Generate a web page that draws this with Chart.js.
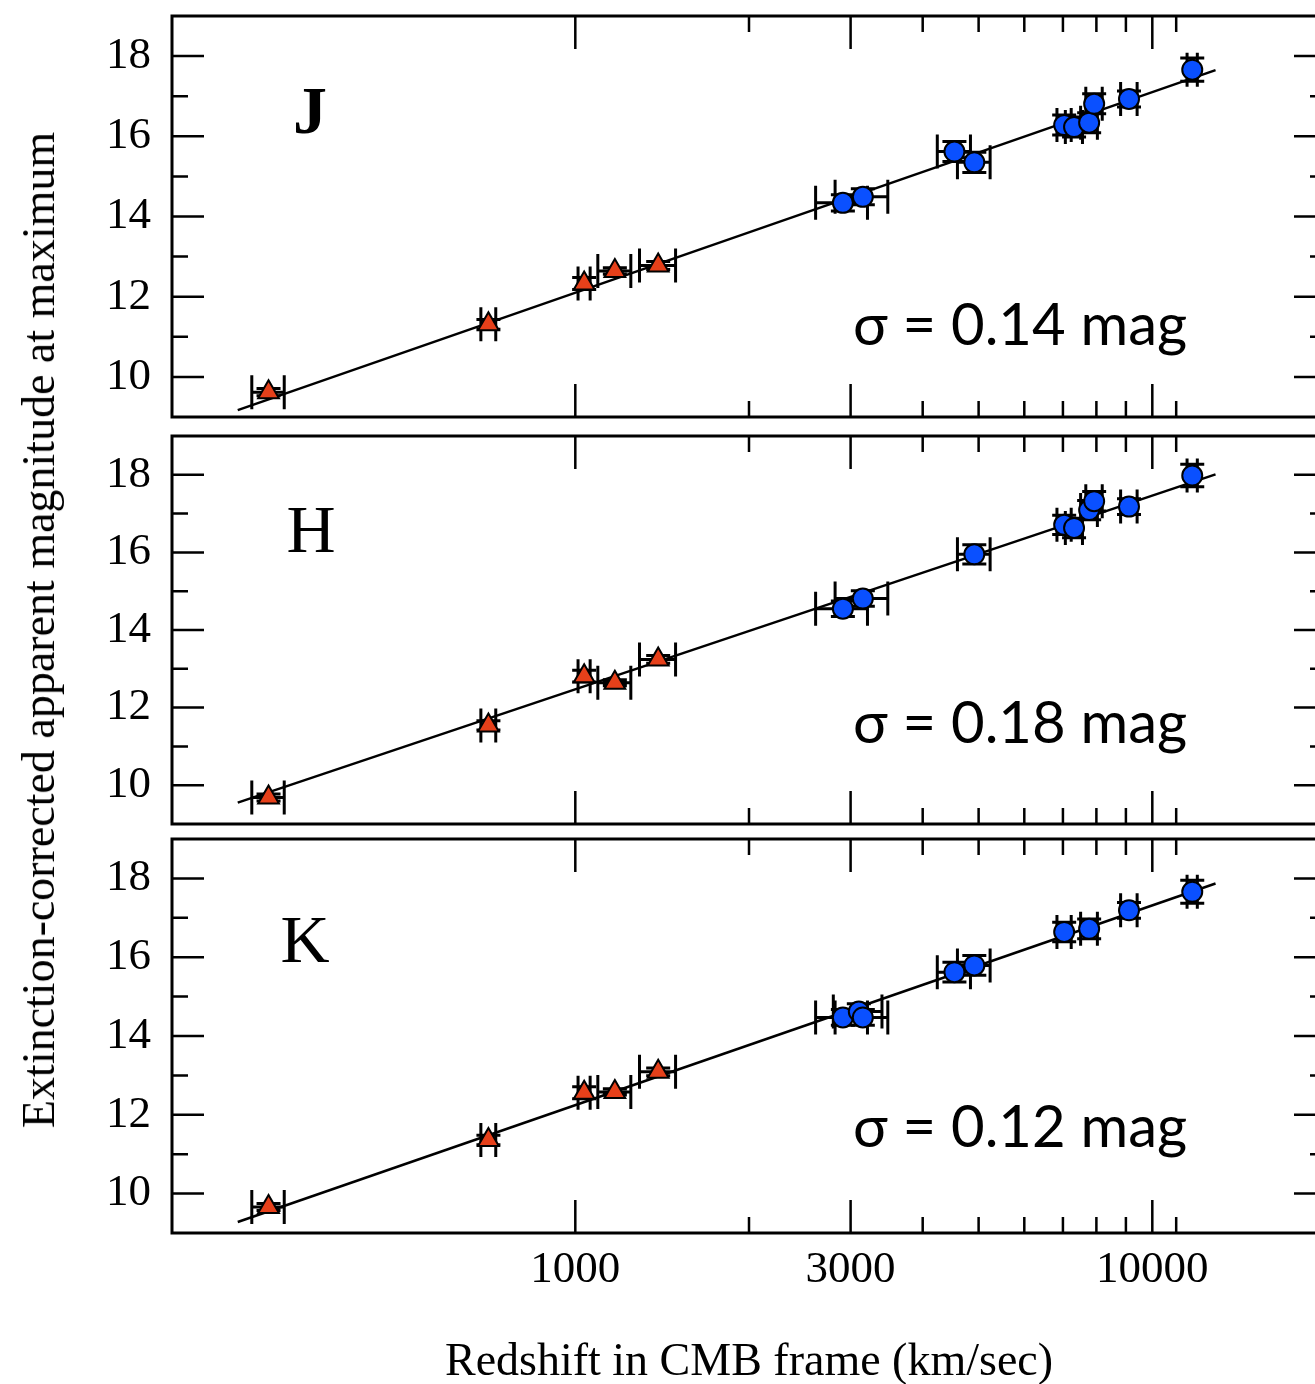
<!DOCTYPE html>
<html>
<head>
<meta charset="utf-8">
<script src="https://cdn.jsdelivr.net/npm/chart.js@4.4.1/dist/chart.umd.min.js"></script>
<style>
  html, body { margin: 0; padding: 0; background: #fff; overflow: hidden; }
  body { position: relative; width: 1315px; height: 1384px; }
  canvas { position: absolute; left: 0; }
  #ytitle {
    position: absolute; left: 39px; top: 630px;
    font-family: "Liberation Serif", "Times New Roman", serif; font-size: 46px; line-height: 1;
    white-space: nowrap; color: #000;
    transform: translate(-50%, -50%) rotate(-90deg);
  }
</style>
</head>
<body>
<canvas id="pJ" width="1340" height="429" style="top:2px"></canvas>
<canvas id="pH" width="1340" height="416" style="top:422px"></canvas>
<canvas id="pK" width="1340" height="559" style="top:825px"></canvas>
<div id="ytitle">Extinction-corrected apparent magnitude at maximum</div>
<script>
// axis ticks
const xLabelTicks = [1000, 3000, 10000];
const xMajor = [1000, 3000, 10000];
const xMinor = [2000, 4000, 5000, 6000, 7000, 8000, 9000, 11000];
const yLabelTicks = [10, 12, 14, 16, 18];
const yMinor = [11, 13, 15, 17];
const xTitle = 'Redshift in CMB frame (km/sec)';

// nearby SNe (red triangles), same velocities in all bands
const triV = [294, 707, 1036, 1171, 1392];
const triVerr = [19, 21, 25, 77, 100];

// fit lines (end points)
const lineV = [260, 12870];

// J band
const jTriM = [9.62, 11.31, 12.33, 12.64, 12.78];
const jTriMerr = [0.09, 0.12, 0.15, 0.08, 0.1];
const jBlueV = [2909, 3150, 4540, 4915, 7035, 7318, 7772, 7929, 9112, 11728];
const jBlueM = [14.34, 14.49, 15.62, 15.35, 16.28, 16.23, 16.34, 16.81, 16.93, 17.66];
const jBlueVerr = [300, 330, 300, 320, 200, 250, 260, 260, 300, 240];
const jBlueMerr = [0.2, 0.2, 0.25, 0.25, 0.25, 0.25, 0.25, 0.25, 0.2, 0.29];
const jLineM = [9.17, 17.65];

// H band
const hTriM = [9.68, 11.54, 12.81, 12.64, 13.24];
const hTriMerr = [0.09, 0.12, 0.15, 0.08, 0.1];
const hBlueV = [2909, 3150, 4915, 7035, 7318, 7772, 7929, 9112, 11728];
const hBlueM = [14.55, 14.81, 15.95, 16.71, 16.63, 17.09, 17.32, 17.18, 17.98];
const hBlueVerr = [300, 330, 320, 200, 250, 260, 260, 300, 240];
const hBlueMerr = [0.2, 0.2, 0.25, 0.25, 0.25, 0.25, 0.25, 0.2, 0.29];
const hLineM = [9.55, 18.01];

// K band
const kTriM = [9.66, 11.36, 12.56, 12.58, 13.09];
const kTriMerr = [0.09, 0.12, 0.15, 0.08, 0.1];
const kBlueV = [2909, 3100, 3150, 4540, 4915, 7035, 7772, 9112, 11728];
const kBlueM = [14.47, 14.62, 14.47, 15.62, 15.79, 16.64, 16.72, 17.19, 17.66];
const kBlueVerr = [300, 300, 330, 300, 320, 200, 260, 300, 240];
const kBlueMerr = [0.2, 0.2, 0.2, 0.25, 0.25, 0.25, 0.25, 0.2, 0.29];
const kLineM = [9.28, 17.87];

const RED = '#e6401a';
const BLUE = '#0a50ff';
const SERIF = '"Liberation Serif", "Times New Roman", serif';

const pts = (xs, ys) => xs.map((v, i) => ({x: v, y: ys[i]}));

// error bars with caps, drawn under the symbols
const errorBars = {
  id: 'errorBars',
  beforeDatasetsDraw(chart) {
    const {ctx, scales: {x, y}} = chart;
    const capX = 17, capY = 12;
    ctx.save();
    ctx.strokeStyle = '#000';
    ctx.lineWidth = 3;
    chart.data.datasets.forEach(ds => {
      if (!ds.xErr) return;
      ds.data.forEach((p, i) => {
        const px = x.getPixelForValue(p.x), py = y.getPixelForValue(p.y);
        const xl = x.getPixelForValue(p.x - ds.xErr[i]);
        const xr = x.getPixelForValue(p.x + ds.xErr[i]);
        const yt = y.getPixelForValue(p.y + ds.yErr[i]);
        const yb = y.getPixelForValue(p.y - ds.yErr[i]);
        ctx.beginPath();
        ctx.moveTo(xl, py); ctx.lineTo(xr, py);
        ctx.moveTo(xl, py - capX); ctx.lineTo(xl, py + capX);
        ctx.moveTo(xr, py - capX); ctx.lineTo(xr, py + capX);
        ctx.moveTo(px, yt); ctx.lineTo(px, yb);
        ctx.moveTo(px - capY, yt); ctx.lineTo(px + capY, yt);
        ctx.moveTo(px - capY, yb); ctx.lineTo(px + capY, yb);
        ctx.stroke();
      });
    });
    ctx.restore();
  }
};

// box frame + inward ticks on all four sides
const frameTicks = {
  id: 'frameTicks',
  afterDraw(chart) {
    const {ctx, chartArea: a, scales: {x, y}} = chart;
    ctx.save();
    ctx.strokeStyle = '#000';
    ctx.lineWidth = 2.5;
    ctx.beginPath();
    const vt = (v, len) => {
      const p = x.getPixelForValue(v);
      ctx.moveTo(p, a.top); ctx.lineTo(p, a.top + len);
      ctx.moveTo(p, a.bottom); ctx.lineTo(p, a.bottom - len);
    };
    const ht = (v, len) => {
      const p = y.getPixelForValue(v);
      ctx.moveTo(a.left, p); ctx.lineTo(a.left + len, p);
      ctx.moveTo(a.right, p); ctx.lineTo(a.right - len, p);
    };
    xMajor.forEach(v => vt(v, 33));
    xMinor.forEach(v => vt(v, 16));
    yLabelTicks.forEach(v => ht(v, 32));
    yMinor.forEach(v => ht(v, 16));
    ctx.stroke();
    ctx.lineWidth = 3;
    ctx.strokeRect(a.left, a.top, a.right - a.left, a.bottom - a.top);
    ctx.restore();
  }
};

// band letter and scatter annotation
const panelText = {
  id: 'panelText',
  afterDraw(chart, args, o) {
    const {ctx, chartArea: a} = chart;
    ctx.save();
    ctx.fillStyle = '#000';
    ctx.textBaseline = 'alphabetic';
    ctx.textAlign = 'center';
    ctx.font = (o.bold ? 'bold ' : '') + '68px ' + SERIF;
    ctx.fillText(o.letter, o.lx, a.top + o.ly);
    ctx.textAlign = 'left';
    ctx.font = '58px Lato, "Open Sans", sans-serif';
    ctx.fillText(o.sigma, 853, a.top + o.sy);
    ctx.restore();
  }
};

function makePanel(id, c) {
  return new Chart(document.getElementById(id), {
    type: 'scatter',
    data: {
      datasets: [
        {data: pts(triV, c.triM), xErr: triVerr, yErr: c.triMerr, pointStyle: 'triangle',
         pointRadius: 12, backgroundColor: RED, borderColor: '#000', borderWidth: 2},
        {data: pts(c.blueV, c.blueM), xErr: c.blueVerr, yErr: c.blueMerr, pointStyle: 'circle',
         pointRadius: 10, backgroundColor: BLUE, borderColor: '#000', borderWidth: 2},
        {data: pts(lineV, c.lineM), showLine: true, pointRadius: 0, borderColor: '#000',
         borderWidth: 2.5, fill: false}
      ]
    },
    options: {
      responsive: false,
      animation: false,
      devicePixelRatio: 1,
      layout: {padding: c.padding},
      plugins: {
        legend: {display: false},
        tooltip: {enabled: false},
        panelText: c.text
      },
      scales: {
        x: {
          type: 'logarithmic', min: 200, max: 20000,
          display: c.showX,
          grid: {display: false},
          border: {display: false},
          ticks: {
            font: {family: SERIF, size: 45}, color: '#000', padding: 2,
            maxRotation: 0, autoSkip: false,
            callback: v => String(v)
          },
          afterBuildTicks: s => { s.ticks = xLabelTicks.map(v => ({value: v})); },
          afterFit: s => { s.height = c.xHeight || s.height; s.paddingLeft = 0; s.paddingRight = 0; },
          title: {display: true, text: xTitle, color: '#000',
                  font: {family: SERIF, size: 46, lineHeight: 0.9}, padding: 0}
        },
        y: {
          min: 9, max: 19,
          grid: {display: false},
          border: {display: false},
          ticks: {font: {family: SERIF, size: 45}, color: '#000', padding: 13},
          afterBuildTicks: s => { s.ticks = yLabelTicks.map(v => ({value: v})); },
          afterFit: s => { s.width = 172; s.paddingTop = 0; s.paddingBottom = 0; }
        }
      }
    },
    plugins: [errorBars, frameTicks, panelText]
  });
}

makePanel('pJ', {
  triM: jTriM, triMerr: jTriMerr, blueV: jBlueV, blueM: jBlueM, blueVerr: jBlueVerr, blueMerr: jBlueMerr,
  lineM: jLineM, showX: false, padding: {left: 0, right: 11, top: 12, bottom: 12},
  text: {letter: 'J', bold: true, lx: 310, ly: 117, sigma: 'σ = 0.14 mag', sy: 329}
});
makePanel('pH', {
  triM: hTriM, triMerr: hTriMerr, blueV: hBlueV, blueM: hBlueM, blueVerr: hBlueVerr, blueMerr: hBlueMerr,
  lineM: hLineM, showX: false, padding: {left: 0, right: 11, top: 12, bottom: 12},
  text: {letter: 'H', lx: 311, ly: 116, sigma: 'σ = 0.18 mag', sy: 307}
});
makePanel('pK', {
  triM: kTriM, triMerr: kTriMerr, blueV: kBlueV, blueM: kBlueM, blueVerr: kBlueVerr, blueMerr: kBlueMerr,
  lineM: kLineM, showX: true, xHeight: 151, padding: {left: 0, right: 11, top: 12, bottom: 0},
  text: {letter: 'K', lx: 305, ly: 123, sigma: 'σ = 0.12 mag', sy: 308}
});
</script>
</body>
</html>
